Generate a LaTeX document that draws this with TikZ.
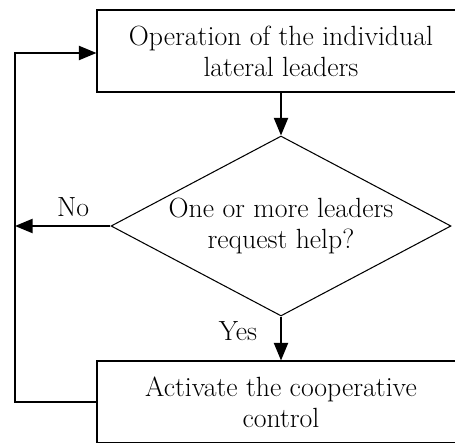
\documentclass[tikz,border=0pt]{standalone}
\usetikzlibrary{shapes.geometric,arrows.meta}

\begin{document}
\begin{tikzpicture}[every node/.style={font=\fontsize{15.8}{17.5}\selectfont},
  flow/.style={line width=1.1pt, -{Triangle[length=10pt,width=8pt]}}]
  \useasboundingbox (0,0) rectangle (9.1,-8.84);
  \clip (0,0) rectangle (9.1,-8.84);
  \node[draw, line width=0.6pt, minimum width=7.36cm, minimum height=1.64cm, align=center] (op) at (5.62,-1.02) {Operation of the individual\\lateral leaders};
  \node[draw, diamond, shape aspect=1.89, line width=0.6pt, minimum width=6.8cm, minimum height=3.6cm, inner sep=0pt, align=center] (ask) at (5.62,-4.52) {One or more leaders\\request help?};
  \node[draw, line width=0.6pt, minimum width=7.36cm, minimum height=1.64cm, align=center] (coop) at (5.62,-8.04) {Activate the cooperative\\control};
  \coordinate (noend) at (0.3,-4.52);
  \draw[flow] (op) -- (ask);
  \draw[flow] (ask) -- (coop);
  \draw[flow] (ask.west) -- (noend);
  \draw[flow] (coop.west) -| (0.3,-1.06) -- (op.west |- 0,-1.06);
  \node (no) at (1.46,-4.14) {No};
  \node (yes) at (4.76,-6.62) {Yes};
\end{tikzpicture}
\end{document}
